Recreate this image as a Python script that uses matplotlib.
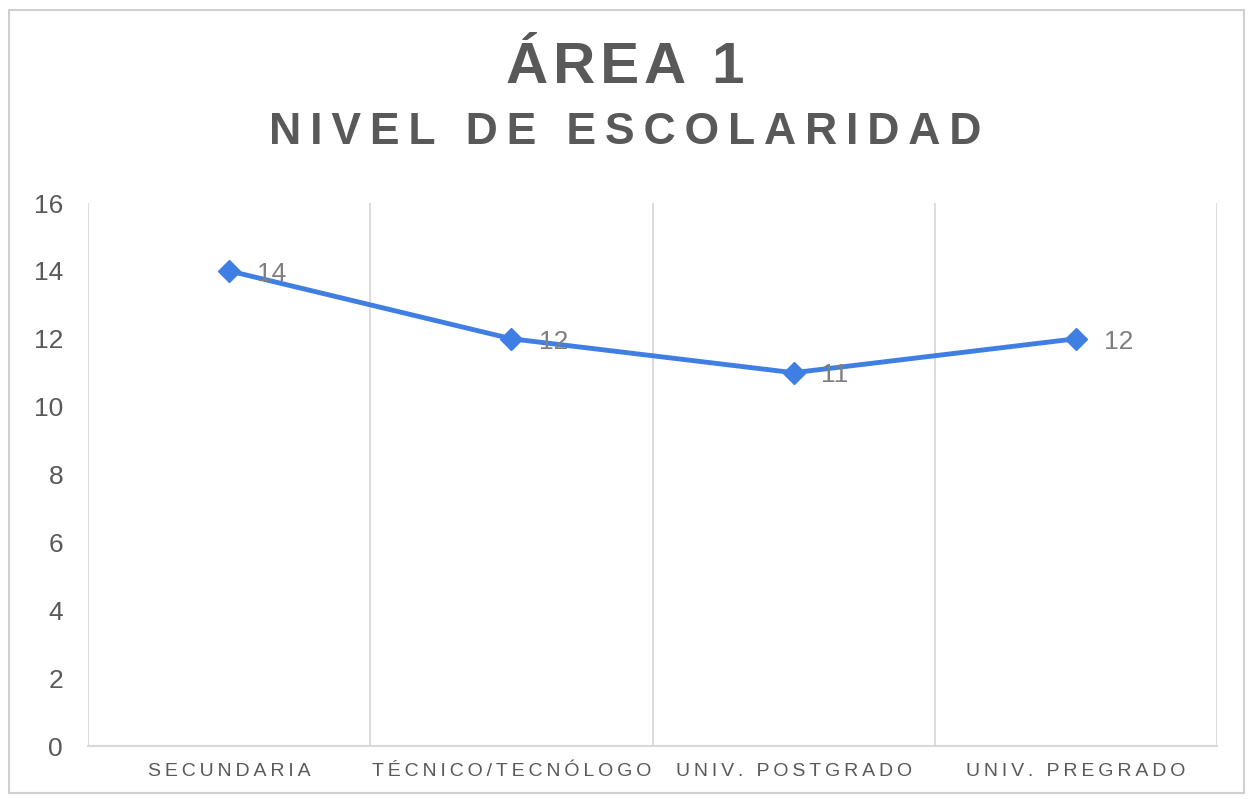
import matplotlib
matplotlib.use("Agg")
import matplotlib.pyplot as plt
from matplotlib.patches import Rectangle

plt.rcParams['font.family'] = ['Liberation Sans', 'DejaVu Sans']

# datos
categorias = ["SECUNDARIA", "TÉCNICO/TECNÓLOGO", "UNIV. POSTGRADO", "UNIV. PREGRADO"]
valores = [14, 12, 11, 12]
titulo1 = "ÁREA 1"
titulo2 = "NIVEL DE ESCOLARIDAD"

gris_texto = "#595959"
gris_linea = "#d9d9d9"
azul = "#3f7fe3"


def espaciar(texto, sep="\u2009"):
    # separacion entre letras, como en el grafico original
    return sep.join(texto)


fig = plt.figure(figsize=(12.5, 7.99), dpi=100)
fig.patches.append(Rectangle((0.007, 0.008), 0.988, 0.98, transform=fig.transFigure,
                             fill=False, edgecolor="#d0d0d0", linewidth=1.5))

ax = fig.add_axes([0.0704, 0.0663, 0.9032, 0.6796])
x = list(range(len(categorias)))
ax.plot(x, valores, color=azul, linewidth=3.5, marker="D", markersize=11,
        solid_capstyle="round", zorder=3)
for xi, v in zip(x, valores):
    ax.annotate(str(v), (xi, v), xytext=(20, -2), textcoords="offset points",
                ha="left", va="center", fontsize=19, color="#7f7f7f", zorder=4)

ax.set_xlim(-0.5, len(categorias) - 0.5)
ax.set_ylim(0, 16)
ax.set_yticks(range(0, 17, 2))
ax.set_xticks(x)
ax.set_xticklabels([espaciar(c) for c in categorias])
# lineas verticales entre categorias
for b in [i - 0.5 for i in range(len(categorias) + 1)]:
    ax.axvline(b, color=gris_linea, linewidth=1.3, zorder=1)

for s in ["top", "right", "left"]:
    ax.spines[s].set_visible(False)
ax.spines["bottom"].set_color(gris_linea)
ax.spines["bottom"].set_linewidth(1.5)
ax.tick_params(axis="both", length=0)
ax.tick_params(axis="y", labelsize=19, labelcolor=gris_texto, pad=18)
ax.tick_params(axis="x", labelsize=14, labelcolor=gris_texto, pad=12)

fig.text(0.5, 0.915, espaciar(titulo1, "\u200a"), ha="center", va="center", fontsize=42,
         fontweight="bold", color=gris_texto)
fig.text(0.5, 0.834, espaciar(titulo2), ha="center", va="center", fontsize=32,
         fontweight="bold", color=gris_texto)

fig.savefig("out.png", dpi=100, facecolor="white")
